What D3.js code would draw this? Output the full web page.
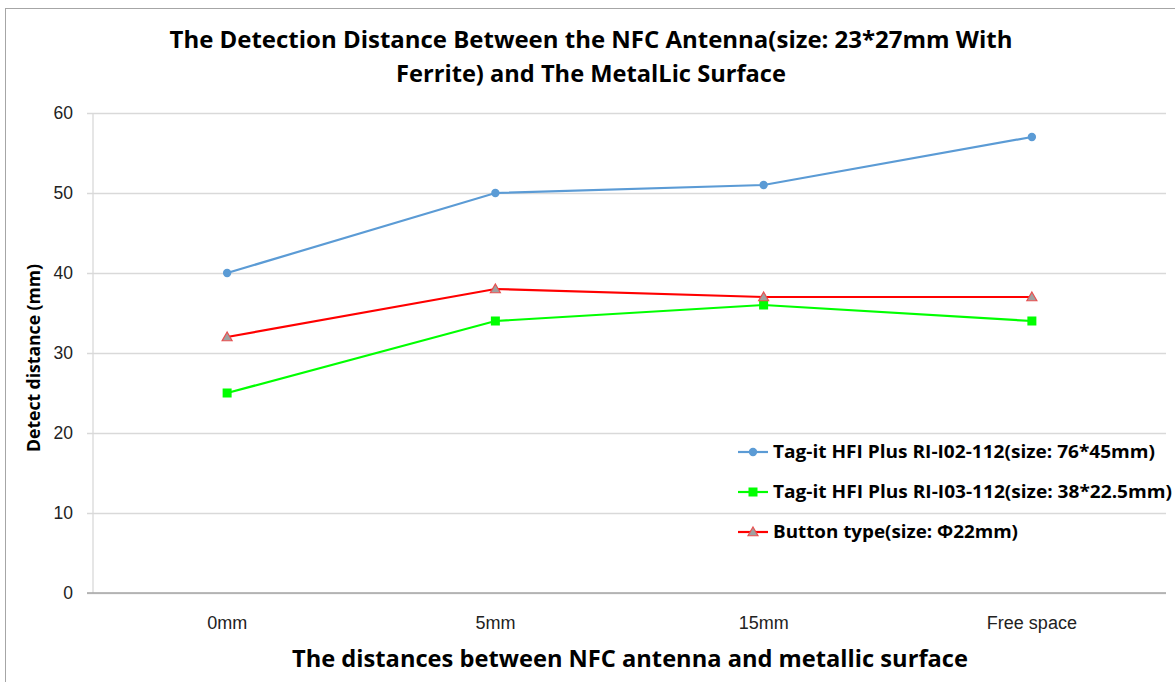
<!DOCTYPE html>
<html>
<head>
<meta charset="utf-8">
<script src="https://cdn.jsdelivr.net/npm/d3@7/dist/d3.min.js"></script>
<style>
  html, body { margin: 0; padding: 0; background: #fff; }
  svg { display: block; font-family: "Open Sans", "Noto Sans", sans-serif; }
</style>
</head>
<body>
<svg id="chart" width="1175" height="682"></svg>
<script>
const categories = ["0mm", "5mm", "15mm", "Free space"];
const yTicks = [0, 10, 20, 30, 40, 50, 60];
const seriesNames = [
  "Tag-it HFI Plus RI-I02-112(size: 76*45mm)",
  "Tag-it HFI Plus RI-I03-112(size: 38*22.5mm)",
  "Button type(size: \u03A622mm)"
];
const blueValues = [40, 50, 51, 57];
const greenValues = [25, 34, 36, 34];
const redValues = [32, 38, 37, 37];
const titleLines = [
  "The Detection Distance Between the NFC Antenna(size: 23*27mm With",
  "Ferrite) and The MetalLic Surface"
];
const xTitle = "The distances between NFC antenna and metallic surface";
const yTitle = "Detect distance (mm)";

const series = [
  { name: seriesNames[0], values: blueValues, color: "#5b9bd5", marker: "circle" },
  { name: seriesNames[1], values: greenValues, color: "#00ff00", marker: "square" },
  { name: seriesNames[2], values: redValues, color: "#ff0000", marker: "triangle" }
];

const svg = d3.select("#chart");
const W = 1175, H = 682;
const plot = { left: 93, right: 1166, top: 113, bottom: 593 };

// frame
svg.append("line").attr("x1", 5).attr("x2", W).attr("y1", 8.5).attr("y2", 8.5).attr("stroke", "#a6a6a6");
svg.append("line").attr("x1", 5.5).attr("x2", 5.5).attr("y1", 8).attr("y2", H).attr("stroke", "#a6a6a6");

const x = d3.scaleBand().domain(categories).range([plot.left, plot.right]);
const y = d3.scaleLinear().domain([0, 60]).range([plot.bottom, plot.top]);

// gridlines + y axis
const yAxis = d3.axisLeft(y).tickValues(yTicks).tickSize(-(plot.right - plot.left)).tickPadding(14);
const gy = svg.append("g").attr("transform", `translate(${plot.left},0)`).call(yAxis);
gy.select(".domain").remove();
gy.selectAll(".tick line").attr("stroke", "#d9d9d9").attr("stroke-width", 1.3).attr("x1", -6);
gy.selectAll(".tick text").attr("font-size", 17.5).attr("fill", "#222").attr("x", -20);
// vertical axis line
svg.append("line").attr("x1", plot.left).attr("x2", plot.left).attr("y1", plot.top).attr("y2", plot.bottom)
  .attr("stroke", "#d9d9d9").attr("stroke-width", 1.3);
// x axis line
svg.append("line").attr("x1", plot.left - 6).attr("x2", plot.right).attr("y1", y(0)).attr("y2", y(0))
  .attr("stroke", "#a6a6a6").attr("stroke-width", 1.3);

// x tick labels
const xAxis = d3.axisBottom(x).tickSize(0).tickPadding(0);
const gx = svg.append("g").attr("transform", `translate(0,${plot.bottom})`).call(xAxis);
gx.select(".domain").remove();
gx.selectAll(".tick text").attr("font-size", 18).attr("fill", "#222").attr("y", 36).attr("dy", 0);

// lines
const line = d3.line().x((d, i) => x(categories[i]) + x.bandwidth() / 2).y(d => y(d));
function drawMarker(g, type, color, cx, cy) {
  if (type === "circle") {
    g.append("circle").attr("cx", cx).attr("cy", cy).attr("r", 4.2).attr("fill", color);
  } else if (type === "square") {
    g.append("rect").attr("x", cx - 4.5).attr("y", cy - 4.5).attr("width", 9).attr("height", 9).attr("fill", color);
  } else {
    const s = 5;
    g.append("path").attr("d", `M${cx},${cy - s}L${cx + s},${cy + s * 0.75}L${cx - s},${cy + s * 0.75}Z`)
      .attr("fill", "#a0a0a0").attr("stroke", "#e85050").attr("stroke-width", 1.2);
  }
}
series.forEach(s => {
  svg.append("path").datum(s.values).attr("d", line).attr("fill", "none")
    .attr("stroke", s.color).attr("stroke-width", 2.2);
  const g = svg.append("g");
  s.values.forEach((v, i) => drawMarker(g, s.marker, s.color, x(categories[i]) + x.bandwidth() / 2, y(v)));
});

// title
svg.append("text").attr("x", 591).attr("y", 48).attr("text-anchor", "middle")
  .attr("font-size", 23.5).attr("font-weight", "bold").attr("fill", "#000")
  .attr("textLength", 843).attr("lengthAdjust", "spacingAndGlyphs").text(titleLines[0]);
svg.append("text").attr("x", 591).attr("y", 82).attr("text-anchor", "middle")
  .attr("font-size", 23.5).attr("font-weight", "bold").attr("fill", "#000")
  .attr("textLength", 390).attr("lengthAdjust", "spacingAndGlyphs").text(titleLines[1]);

// axis titles
svg.append("text").attr("x", 630).attr("y", 667).attr("text-anchor", "middle")
  .attr("font-size", 23.5).attr("font-weight", "bold").attr("fill", "#000")
  .attr("textLength", 676).attr("lengthAdjust", "spacingAndGlyphs").text(xTitle);
svg.append("text").attr("transform", "translate(40,358) rotate(-90)").attr("text-anchor", "middle")
  .attr("font-size", 17.5).attr("font-weight", "bold").attr("fill", "#000")
  .attr("textLength", 188).attr("lengthAdjust", "spacingAndGlyphs").text(yTitle);

// legend
const legendWidths = [382, 399, 245];
const lg = svg.append("g");
series.forEach((s, i) => {
  const ly = 452 + i * 40;
  lg.append("line").attr("x1", 738).attr("x2", 768).attr("y1", ly).attr("y2", ly)
    .attr("stroke", s.color).attr("stroke-width", 2.2);
  drawMarker(lg, s.marker, s.color, 753, ly);
  lg.append("text").attr("x", 773).attr("y", ly + 6).attr("font-size", 17.5).attr("font-weight", "bold")
    .attr("fill", "#000").attr("textLength", legendWidths[i]).attr("lengthAdjust", "spacingAndGlyphs").text(s.name);
});
</script>
</body>
</html>
